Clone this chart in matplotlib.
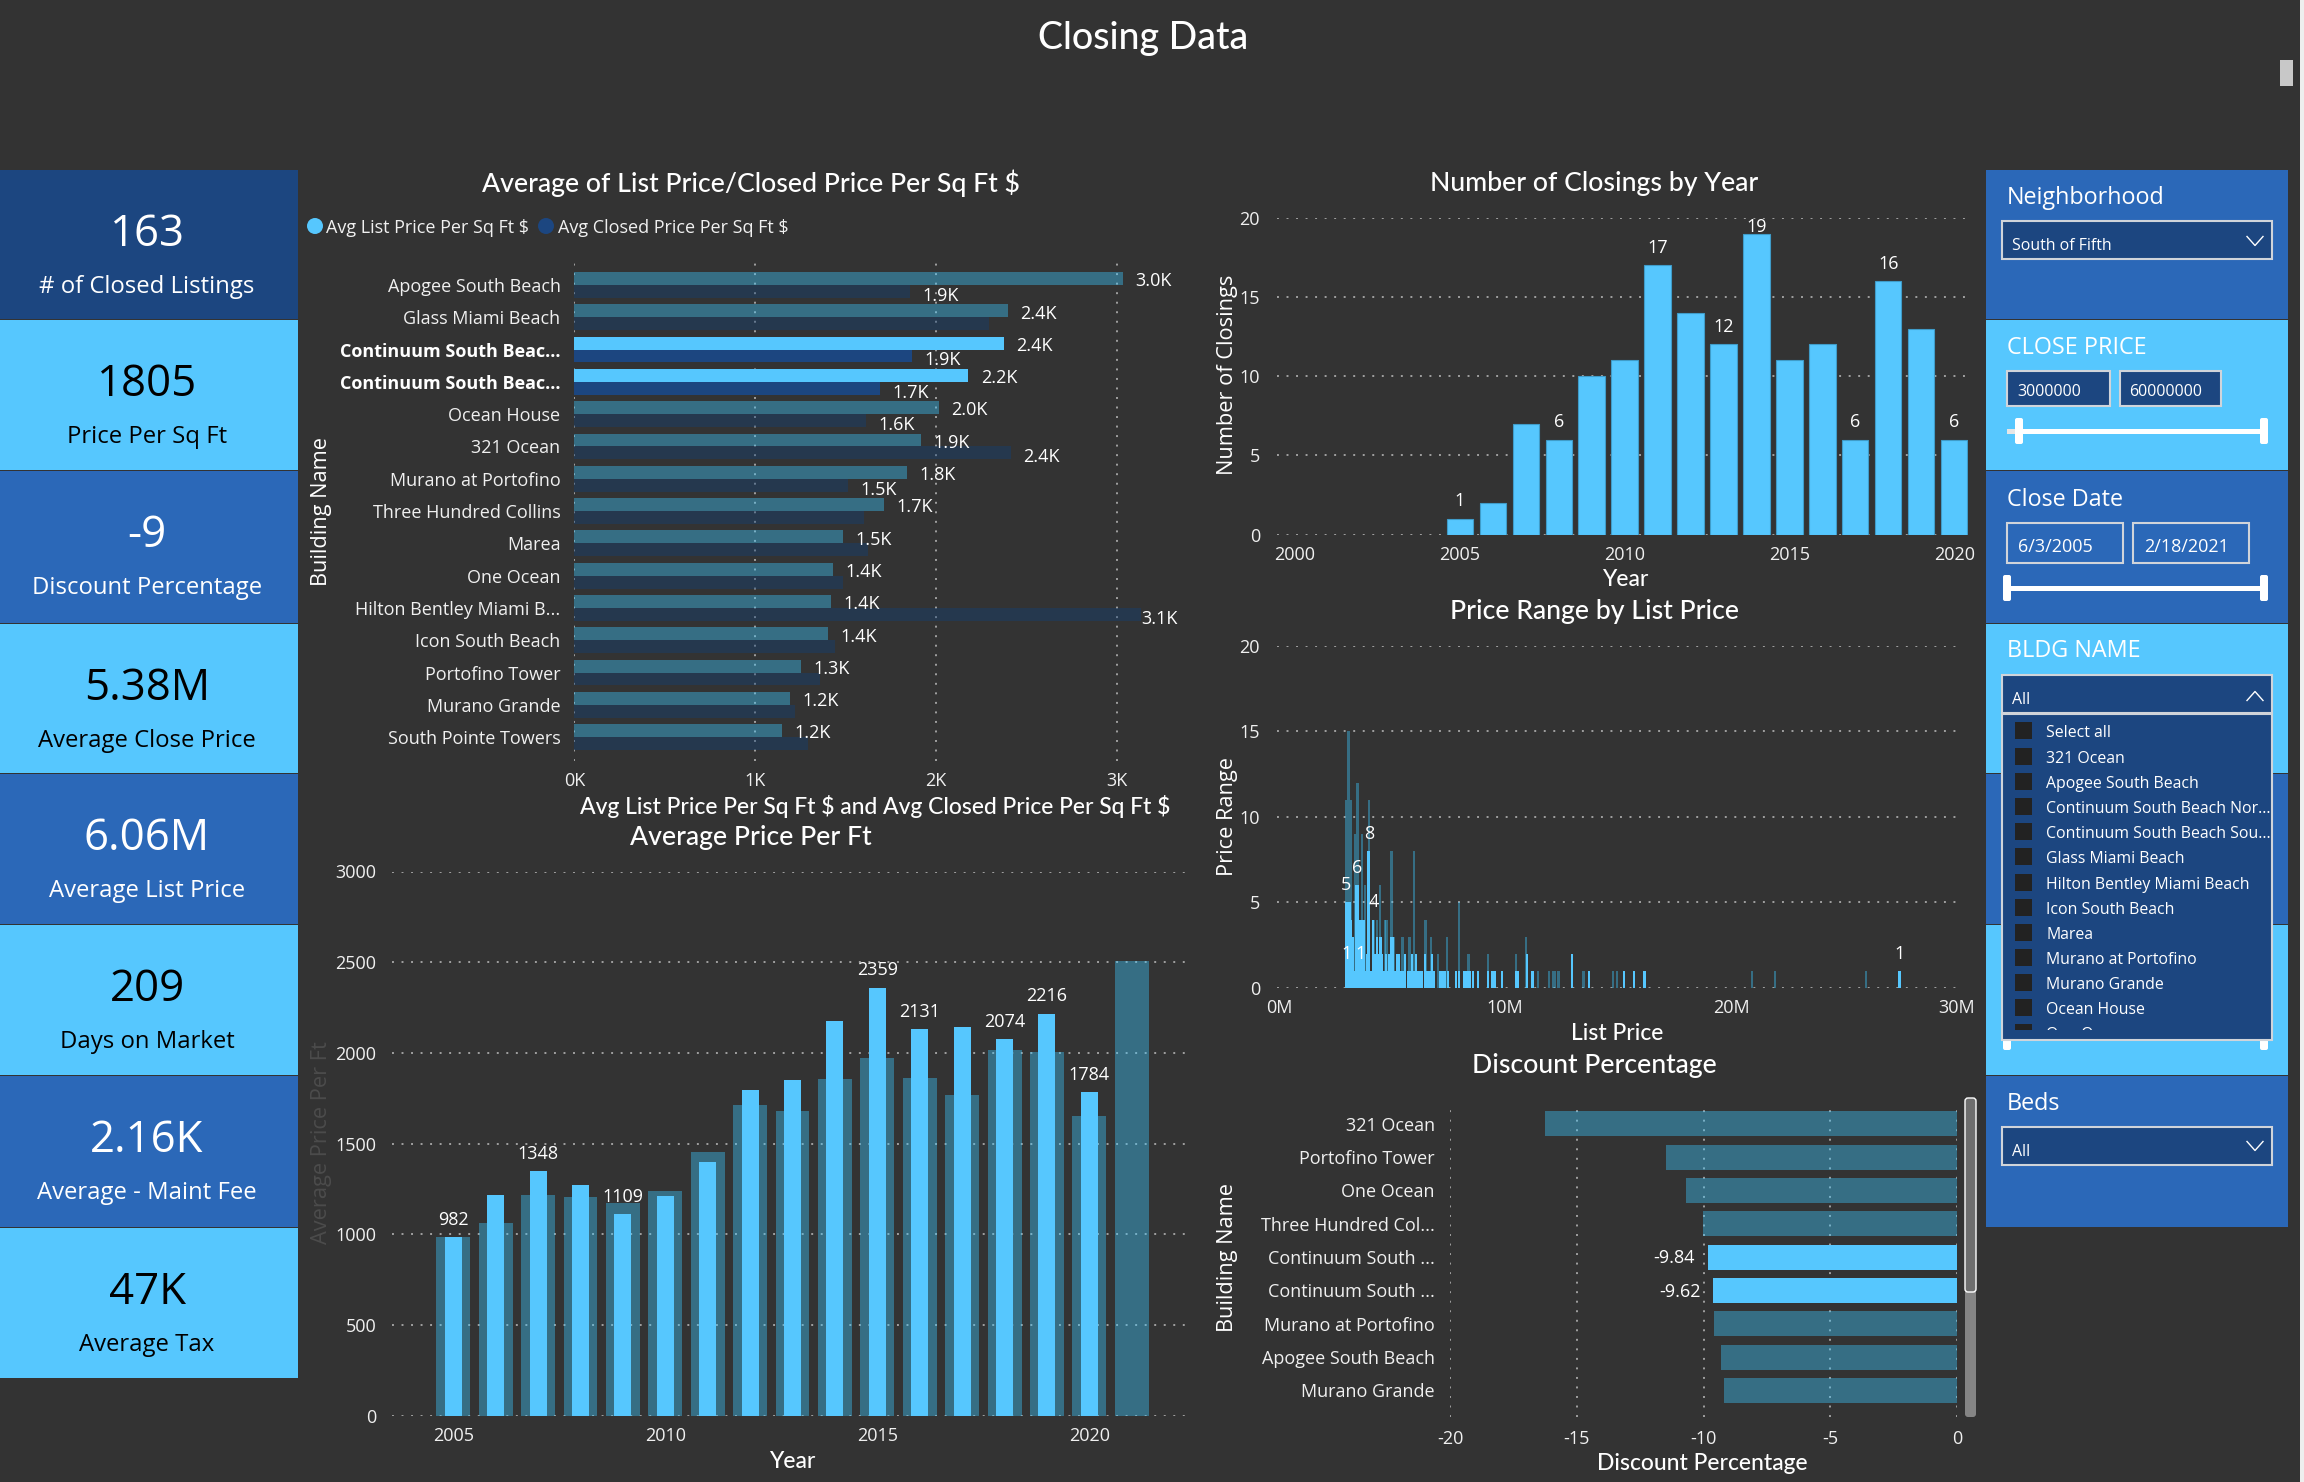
import matplotlib
matplotlib.use("Agg")
import matplotlib.pyplot as plt
from matplotlib.patches import Rectangle, FancyBboxPatch, Ellipse

W, H = 2304, 1482
BG = "#333333"
LIGHT = "#56C7FE"
MID = "#2B68B8"
DARK = "#1C4680"
DIM = "#3DC9FF"      # drawn with alpha 0.4
DIM_CLOSED = "#114279"
GRID = "#a0a0a0"
TXT = "#f0f0f0"
SANS = "Open Sans"
HEAD = "Lato"

# kpi cards
kpi_values = ["163", "1805", "-9", "5.38M", "6.06M", "209", "2.16K", "47K"]
kpi_labels = ["# of Closed Listings", "Price Per Sq Ft", "Discount Percentage", "Average Close Price",
              "Average List Price", "Days on Market", "Average - Maint Fee", "Average Tax"]
kpi_colors = [DARK, LIGHT, MID, LIGHT, MID, LIGHT, MID, LIGHT]
kpi_text = ["white", "black", "white", "black", "white", "black", "white", "black"]
band_edges = [170, 320, 471, 624, 774, 925, 1076, 1228, 1379]

# list price / closed price per sq ft
buildings = ["Apogee South Beach", "Glass Miami Beach", "Continuum South Beac...", "Continuum South Beac...",
             "Ocean House", "321 Ocean", "Murano at Portofino", "Three Hundred Collins", "Marea", "One Ocean",
             "Hilton Bentley Miami B...", "Icon South Beach", "Portofino Tower", "Murano Grande", "South Pointe Towers"]
list_ppsf = [3032, 2397, 2375, 2178, 2013, 1914, 1838, 1711, 1483, 1429, 1419, 1403, 1254, 1190, 1149]
closed_ppsf = [1854, 2292, 1867, 1689, 1610, 2413, 1514, 1600, 1625, 1483, 3133, 1441, 1359, 1222, 1289]
list_labels = ["3.0K", "2.4K", "2.4K", "2.2K", "2.0K", "1.9K", "1.8K", "1.7K", "1.5K", "1.4K", "1.4K", "1.4K", "1.3K", "1.2K", "1.2K"]
closed_labels = ["1.9K", None, "1.9K", "1.7K", "1.6K", "2.4K", "1.5K", None, None, None, "3.1K", None, None, None, None]
highlighted = [2, 3]

# average price per ft
price_years = list(range(2005, 2022))
price_back = [984, 1061, 1217, 1205, 1173, 1236, 1454, 1713, 1682, 1857, 1973, 1864, 1768, 2015, 2003, 1650, 2508]
front_years = list(range(2005, 2021))
price_front = [982, 1217, 1348, 1270, 1109, 1210, 1398, 1794, 1850, 2178, 2359, 2131, 2145, 2074, 2216, 1784]
price_labelled = [2005, 2007, 2009, 2015, 2016, 2018, 2019, 2020]

# closings by year
closing_years = list(range(2005, 2021))
closings = [1, 2, 7, 6, 10, 11, 17, 14, 12, 19, 11, 12, 6, 16, 13, 6]
closings_labelled = [2005, 2008, 2011, 2013, 2014, 2017, 2018, 2020]

# price range by list price, list price in millions
range_back_x = [2.96, 3.07, 3.17, 3.36, 3.47, 3.67, 3.82, 3.97, 4.18, 4.35, 4.47, 4.70, 4.76, 4.98, 5.07, 5.47, 5.77,
                5.97, 6.48, 6.71, 7.05, 7.45, 7.96, 8.38, 9.26, 10.49, 10.94, 11.47, 11.96, 12.13, 12.21, 12.37,
                13.47, 14.79, 14.97, 20.93, 21.95, 25.96]
range_back_y = [11, 15, 11, 9, 12, 9, 6, 11, 4, 4, 6, 4, 4, 8, 3, 3, 3, 8, 4, 3, 2, 3, 5, 2, 2, 2, 3, 1, 1, 1, 1, 1,
                1, 1, 1, 1, 1, 1]
range_front_x = [2.95, 3.03, 3.12, 3.20, 3.28, 3.36, 3.42, 3.50, 3.58, 3.66, 3.74, 3.82, 3.88, 3.96, 4.05, 4.15, 4.25,
                 4.33, 4.41, 4.49, 4.57, 4.65, 4.73, 4.81, 4.88, 4.96, 5.04, 5.12, 5.22, 5.30, 5.42, 5.50, 5.58, 5.72,
                 5.80, 5.90, 5.98, 6.06, 6.14, 6.22, 6.30, 6.45, 6.53, 6.61, 6.69, 6.77, 6.85, 7.12, 7.20, 7.28, 7.36,
                 7.48, 7.82, 7.96, 8.18, 8.30, 8.38, 8.45, 8.57, 8.82, 9.26, 9.45, 9.56, 9.87, 10.49, 10.55, 10.97,
                 11.18, 11.25, 12.98, 13.72, 15.27, 15.72, 16.17, 27.46]
range_front_y = [5, 5, 5, 4, 3, 1, 6, 6, 4, 4, 4, 1, 2, 8, 1, 4, 2, 3, 2, 3, 2, 1, 2, 1, 2, 3, 3, 1, 2, 2, 1, 1, 2, 1,
                 1, 2, 1, 2, 1, 1, 1, 2, 1, 1, 1, 2, 1, 1, 1, 1, 1,
                 1, 1, 1, 1, 1, 1, 1, 1, 1, 1, 1, 1, 1, 1, 1, 2,
                 1, 1, 2, 1, 1, 1, 1, 1]
range_label_x = [2.97, 3.47, 3.97, 4.18, 3.00, 3.60, 27.46]
range_label_y = [5, 6, 8, 4, 1, 1, 1]

# discount
discount_names = ["321 Ocean", "Portofino Tower", "One Ocean", "Three Hundred Col...", "Continuum South ...",
                  "Continuum South ...", "Murano at Portofino", "Apogee South Beach", "Murano Grande"]
discount_values = [-16.26, -11.47, -10.68, -10.04, -9.84, -9.62, -9.58, -9.32, -9.18]
discount_highlight = [4, 5]

# slicer list
bldg_items = ["Select all", "321 Ocean", "Apogee South Beach", "Continuum South Beach Nor...",
              "Continuum South Beach Sou...", "Glass Miami Beach", "Hilton Bentley Miami Beach",
              "Icon South Beach", "Marea", "Murano at Portofino", "Murano Grande", "Ocean House", "One Ocean"]
bldg_item_y = [730, 756, 781, 806, 831, 856, 882, 907, 932, 957, 982, 1007, 1032]
slicer_colors = [MID, LIGHT, MID, LIGHT, MID, LIGHT, MID]


def px_axes(x0, y0, x1, y1):
    ax = fig.add_axes([x0 / W, 1 - y1 / H, (x1 - x0) / W, (y1 - y0) / H], facecolor="none")
    for s in ax.spines.values():
        s.set_visible(False)
    ax.tick_params(length=0, colors=TXT, labelsize=13)
    return ax


def style_grid(ax, axis):
    ax.grid(True, axis=axis, color=GRID, linewidth=1.4, linestyle=(0, (1, 3.9)), zorder=1)
    ax.set_axisbelow(True)


def txt(x, y, s, size=13, color=TXT, ha="center", va="center", family=SANS, **kw):
    return bg.text(x, y + 3, s, fontsize=size, color=color, ha=ha, va=va, family=family, **kw)


def head(x, y, s, size=19.2):
    return txt(x, y + 2, s, size=size, color="white", family=HEAD, fontweight="medium")


def label_above(ax, x, y, s, offset=12.5, zorder=6):
    ax.annotate(s, (x, y), xytext=(0, offset), textcoords="offset points", ha="center", va="center",
                color="white", fontsize=13, family=SANS, annotation_clip=False, zorder=zorder)


fig = plt.figure(figsize=(W / 100, H / 100), dpi=100, facecolor=BG)
bg = fig.add_axes([0, 0, 1, 1], facecolor=BG)
bg.set_xlim(0, W)
bg.set_ylim(H, 0)
bg.axis("off")

# page furniture
bg.add_patch(Rectangle((2300, 0), 4, H, color="#eeeeee", lw=0))
bg.add_patch(Rectangle((2280, 60), 12.5, 26, color="#c8c8c8", lw=0))
head(1143, 34, "Closing Data", size=27)

# kpi cards
for i, v in enumerate(kpi_values):
    top, bottom = band_edges[i], band_edges[i + 1]
    bg.add_patch(Rectangle((0, top), 298, bottom - top - 1, color=kpi_colors[i], lw=0))
    txt(147, top + 62, v, size=31.5, color=kpi_text[i])
    txt(147, top + 114, kpi_labels[i], size=17.2, color=kpi_text[i])

# slicer panels
for i, c in enumerate(slicer_colors):
    top, bottom = band_edges[i], band_edges[i + 1]
    bg.add_patch(Rectangle((1986, top), 302, bottom - top - 1, color=c, lw=0))


def box(x0, y0, x1, y1, fill=DARK):
    bg.add_patch(Rectangle((x0, y0), x1 - x0, y1 - y0, facecolor=fill, edgecolor="#d0d4da", lw=1.5))


def chevron(y, up=False):
    d = -9 if up else 9
    bg.plot([2247, 2255, 2263], [y - d / 2, y + d / 2, y - d / 2], color="white", lw=1, zorder=5)


def slider(y, x0, x1, track0):
    bg.add_patch(Rectangle((track0, y - 2.5), x1 - track0, 5, color="#e6e6e6", lw=0))
    bg.add_patch(Rectangle((x0, y - 2.5), x1 - x0, 5, color="white", lw=0))
    for x in (x0, x1):
        bg.add_patch(FancyBboxPatch((x - 2, y - 11), 4, 22, boxstyle="round,pad=2", color="white", lw=0, zorder=1))


txt(2007, 195, "Neighborhood", size=16.8, color="white", ha="left")
box(2002, 221, 2272, 259)
txt(2012, 243, "South of Fifth", size=11.4, color="white", ha="left")
chevron(241)

txt(2007, 345, "CLOSE PRICE", size=16.8, color="white", ha="left")
box(2007, 371, 2110, 406)
box(2120, 371, 2221, 406)
txt(2017, 389, "3000000", size=11.5, color="white", ha="left")
txt(2129, 389, "60000000", size=11.5, color="white", ha="left")
slider(431, 2019, 2264, 2007)

txt(2007, 497, "Close Date", size=16.8, color="white", ha="left")
box(2007, 523, 2123, 563, MID)
box(2133, 523, 2249, 563, MID)
txt(2018, 544, "6/3/2005", size=13, color="white", ha="left")
txt(2144, 544, "2/18/2021", size=13, color="white", ha="left")
slider(588, 2007, 2264, 2007)

txt(2007, 648, "BLDG NAME", size=16.8, color="white", ha="left")
slider(1037, 2007, 2264, 2007)
box(2002, 675, 2272, 713)
txt(2012, 697, "All", size=11.4, color="white", ha="left")
chevron(696, up=True)
box(2002, 714, 2272, 1040)
clip = Rectangle((2002, 714), 270, 316, transform=bg.transData)
for name, y in zip(bldg_items, bldg_item_y):
    check = Rectangle((2015, y - 8.5), 17, 17, color="#222222", lw=0, zorder=4)
    bg.add_patch(check)
    check.set_clip_path(clip)
    t = txt(2046, y, name, size=11.4, color="white", ha="left", zorder=4)
    t.set_clip_path(clip)
    t.set_clip_on(True)

txt(2007, 1101, "Beds", size=16.8, color="white", ha="left")
box(2002, 1127, 2272, 1165)
txt(2012, 1149, "All", size=11.4, color="white", ha="left")
chevron(1146)

# list / closed price per sq ft
ax1 = px_axes(574.4, 261, 1190, 761)
ax1.set_xlim(0, 3403)
ax1.set_ylim(14.74, -0.743)
style_grid(ax1, "x")
for i in range(len(buildings)):
    hi = i in highlighted
    ax1.barh(i - 0.2, list_ppsf[i], 0.4, color=LIGHT if hi else DIM, alpha=1 if hi else 0.4, zorder=3)
    ax1.barh(i + 0.2, closed_ppsf[i], 0.4, color=DARK if hi else DIM_CLOSED, alpha=1 if hi else 0.4, zorder=3)
    ax1.annotate(list_labels[i], (list_ppsf[i], i - 0.2), xytext=(9, -2), textcoords="offset points",
                 va="center", color="white", fontsize=13, family=SANS, zorder=6)
    if closed_labels[i]:
        pad = 0 if closed_ppsf[i] > 3100 else 9
        ax1.annotate(closed_labels[i], (closed_ppsf[i], i + 0.25), xytext=(pad, -2), textcoords="offset points",
                     va="center", color="white", fontsize=13, family=SANS, zorder=6)
ax1.set_xticks([0, 1000, 2000, 3000], ["0K", "1K", "2K", "3K"], family=SANS, fontsize=13)
ax1.set_yticks(range(len(buildings)), buildings, family=SANS, fontsize=13)
ax1.tick_params(axis="y", pad=10)
ax1.tick_params(axis="x", pad=8)
for i in highlighted:
    ax1.get_yticklabels()[i].set_fontweight("bold")
    ax1.get_yticklabels()[i].set_color("white")
head(751, 178, "Average of List Price/Closed Price Per Sq Ft \\$")
head(875, 802, "Avg List Price Per Sq Ft \\$ and Avg Closed Price Per Sq Ft \\$", size=16.5)
txt(322, 508, "Building Name", size=15.7, color="white", rotation=90)
bg.add_patch(Ellipse((315, 226), 16, 16, color=LIGHT, lw=0))
txt(326, 225, "Avg List Price Per Sq Ft \\$", size=13, ha="left")
bg.add_patch(Ellipse((546, 226), 16, 16, color=DARK, lw=0))
txt(558, 225, "Avg Closed Price Per Sq Ft \\$", size=13, ha="left")

# average price per ft
ax2 = px_axes(391.8, 871.5, 1188.6, 1415.6)
ax2.set_xlim(2003.55, 2022.34)
ax2.set_ylim(0, 3000)
style_grid(ax2, "y")
ax2.bar(price_years, price_back, 0.8, color=DIM, alpha=0.4, zorder=3)
ax2.bar(front_years, price_front, 0.4, color=LIGHT, zorder=4)
for y, v in zip(front_years, price_front):
    if y in price_labelled:
        label_above(ax2, y, v, str(v))
ax2.set_xticks([2005, 2010, 2015, 2020], ["2005", "2010", "2015", "2020"], family=SANS, fontsize=13)
ax2.set_yticks(range(0, 3001, 500), [str(v) for v in range(0, 3001, 500)], family=SANS, fontsize=13)
ax2.tick_params(axis="y", pad=11)
ax2.tick_params(axis="x", pad=8)
head(751, 833, "Average Price Per Ft")
head(792, 1456, "Year", size=16.5)
txt(322, 1140, "Average Price Per Ft", size=15.7, color="#4c4c4c", rotation=90)

# closings by year
ax3 = px_axes(1276.6, 217.7, 1968, 534.7)
ax3.set_xlim(1999.44, 2020.42)
ax3.set_ylim(0, 20)
style_grid(ax3, "y")
ax3.bar(closing_years, closings, 0.8, color=LIGHT, edgecolor="#3f9cc9", linewidth=0.8, zorder=3)
for y, v in zip(closing_years, closings):
    if y in closings_labelled:
        # the tallest label is pushed down against the top of the plot, behind its bar
        if v == max(closings):
            label_above(ax3, y, v, str(v), offset=4.5, zorder=2)
        else:
            label_above(ax3, y, v, str(v))
ax3.set_xticks([2000, 2005, 2010, 2015, 2020], ["2000", "2005", "2010", "2015", "2020"], family=SANS, fontsize=13)
ax3.set_yticks([0, 5, 10, 15, 20], ["0", "5", "10", "15", "20"], family=SANS, fontsize=13)
ax3.tick_params(axis="y", pad=12)
ax3.tick_params(axis="x", pad=8)
head(1594, 178, "Number of Closings by Year")
head(1625, 575, "Year", size=16.5)
txt(1228, 372, "Number of Closings", size=15.7, color="white", rotation=90)

# price range
ax4 = px_axes(1276.6, 645.7, 1957, 988)
ax4.set_xlim(-0.106, 30)
ax4.set_ylim(0, 20)
style_grid(ax4, "y")
ax4.bar(range_back_x, range_back_y, 0.1, color=DIM, alpha=0.4, zorder=3)
ax4.bar(range_front_x, range_front_y, 0.1, color=LIGHT, zorder=4)
for x, y in zip(range_label_x, range_label_y):
    label_above(ax4, x, y, str(y))
ax4.set_xticks([0, 10, 20, 30], ["0M", "10M", "20M", "30M"], family=SANS, fontsize=13)
ax4.set_yticks([0, 5, 10, 15, 20], ["0", "5", "10", "15", "20"], family=SANS, fontsize=13)
ax4.tick_params(axis="y", pad=12)
ax4.tick_params(axis="x", pad=8)
head(1594, 606, "Price Range by List Price")
head(1617, 1028, "List Price", size=16.5)
txt(1228, 813, "Price Range", size=15.7, color="white", rotation=90)

# discount
ax5 = px_axes(1450, 1105, 1957.1, 1417)
ax5.set_xlim(-20, 0)
ax5.set_ylim(8.8, -0.561)
style_grid(ax5, "x")
for i, v in enumerate(discount_values):
    hi = i in discount_highlight
    ax5.barh(i, v, 0.75, color=LIGHT if hi else DIM, alpha=1 if hi else 0.4, zorder=3)
    if hi:
        ax5.annotate(f"{v:.2f}", (v, i), xytext=(-9, -1), textcoords="offset points", ha="right", va="center",
                     color="white", fontsize=13, family=SANS, zorder=6)
ax5.set_xticks([-20, -15, -10, -5, 0], ["-20", "-15", "-10", "-5", "0"], family=SANS, fontsize=13)
ax5.set_yticks(range(len(discount_names)), discount_names, family=SANS, fontsize=13)
ax5.tick_params(axis="y", pad=11)
ax5.tick_params(axis="x", pad=9)
head(1594, 1060, "Discount Percentage")
head(1702, 1458, "Discount Percentage", size=16.5)
txt(1228, 1255, "Building Name", size=15.7, color="white", rotation=90)
bg.add_patch(FancyBboxPatch((1968, 1101), 5, 313, boxstyle="round,pad=3", color="#858585", lw=0))
bg.add_patch(FancyBboxPatch((1968, 1101), 5, 188, boxstyle="round,pad=3", facecolor="#6e6e6e", edgecolor="white", lw=1))

fig.savefig("out.png", dpi=100, facecolor=BG)
